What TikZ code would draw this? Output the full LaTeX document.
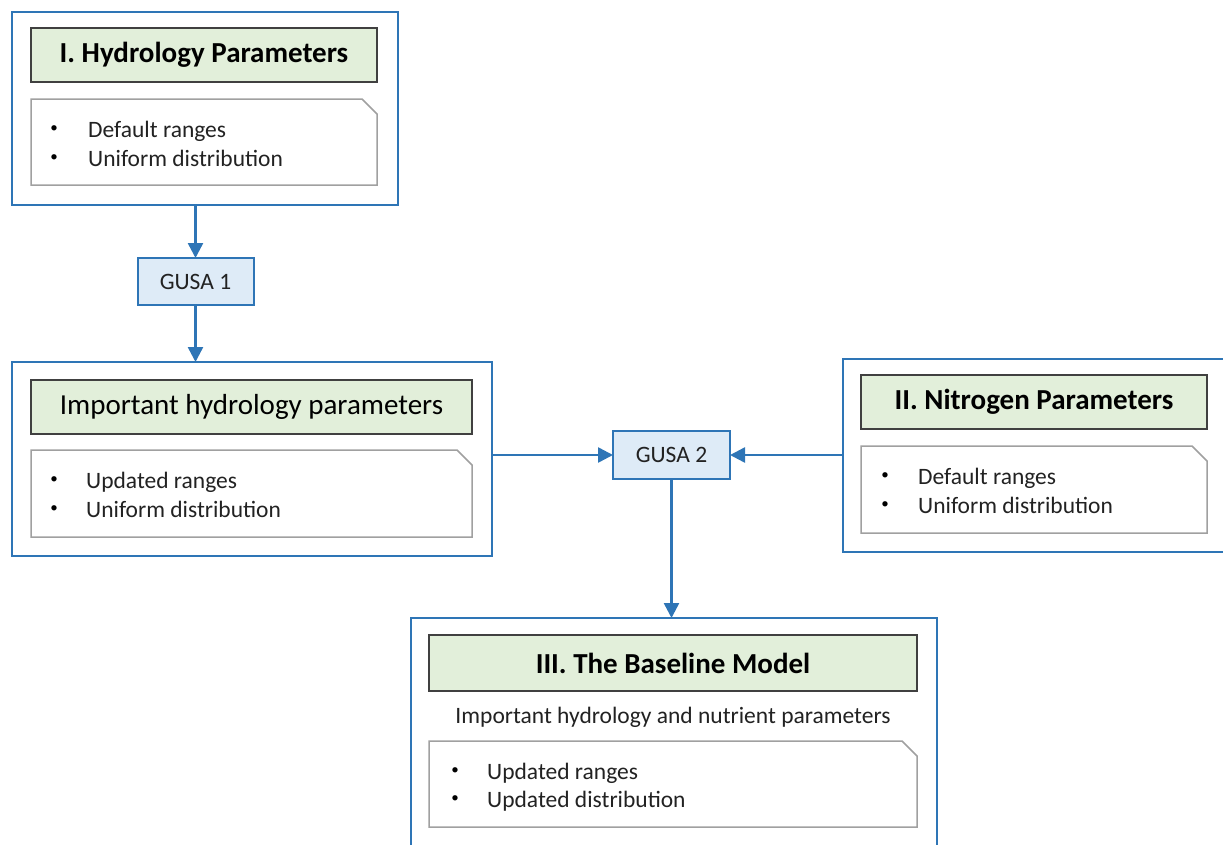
\documentclass[tikz,border=0pt]{standalone}
\usepackage{fontspec}
\setmainfont{Carlito}
\usetikzlibrary{arrows.meta}
\definecolor{bblue}{HTML}{2E75B6}
\definecolor{gfill}{HTML}{E2EFDA}
\definecolor{bfill}{HTML}{DEEBF7}
\definecolor{tborder}{HTML}{404040}
\definecolor{nborder}{HTML}{A0A0A0}
\definecolor{txt}{HTML}{222222}
\tikzset{
  outerbox/.style={draw=bblue, line width=2.5pt, inner sep=0pt, outer sep=0pt, fill=white},
  titlebox/.style={draw=tborder, line width=1.2pt, fill=gfill, inner sep=0pt, outer sep=0pt,
    font=\fontsize{29}{34}\selectfont, text=black},
  notebox/.style={inner sep=0pt, outer sep=0pt},
  noteline/.style={draw=nborder, line width=1.5pt, fill=white, line join=miter},
  gusabox/.style={draw=bblue, line width=2pt, fill=bfill, inner sep=0pt, outer sep=0pt,
    font=\fontsize{23.5}{28}\selectfont, text=txt},
  bodytext/.style={font=\fontsize{23.5}{28}\selectfont, text=txt, inner sep=0pt, anchor=base west},
  bullet/.style={font=\fontsize{15}{18}\selectfont, text=black, inner sep=0pt, anchor=center},
  conn/.style={draw=bblue, line width=2.5pt, -{Triangle[length=15pt,width=15pt]}}
}
\newcommand{\foldbox}[1]{%
  \path[noteline] (#1.south west) -- (#1.north west) -- ([xshift=-15pt]#1.north east)
    -- ([yshift=-15pt]#1.north east) -- (#1.south east) -- cycle;}
\begin{document}
\begin{tikzpicture}[x=1pt,y=-1pt]
\clip (0,0) rectangle (1223,844);
% Box I
\node[outerbox, minimum width=386, minimum height=193] (hyd) at (205,108.5) {};
\node[titlebox, minimum width=346, minimum height=54] (hydT) at (204,55) {\textbf{I. Hydrology Parameters}};
\node[notebox, minimum width=346, minimum height=86] (hydN) at (204,142) {};
\foldbox{hydN}
\node[bullet] (hydB1) at (54,129) {•};
\node[bodytext] (hydL1) at (88,137) {Default ranges};
\node[bullet] (hydB2) at (54,158) {•};
\node[bodytext] (hydL2) at (88,166) {Uniform distribution};
% GUSA 1
\node[gusabox, minimum width=116, minimum height=47] (g1) at (195.5,281.5) {GUSA 1};
% Important hydrology
\node[outerbox, minimum width=480, minimum height=194] (imp) at (252,459) {};
\node[titlebox, minimum width=441, minimum height=54] (impT) at (251.5,407) {Important hydrology parameters};
\node[notebox, minimum width=441, minimum height=87] (impN) at (251.5,493.5) {};
\foldbox{impN}
\node[bullet] (impB1) at (54,480) {•};
\node[bodytext] (impL1) at (86,488) {Updated ranges};
\node[bullet] (impB2) at (54,509) {•};
\node[bodytext] (impL2) at (86,517) {Uniform distribution};
% GUSA 2
\node[gusabox, minimum width=117, minimum height=48] (g2) at (671.5,455) {GUSA 2};
% Nitrogen
\node[outerbox, minimum width=407, minimum height=193] (nit) at (1046.5,455.5) {};
\node[titlebox, minimum width=346, minimum height=54] (nitT) at (1034,402) {\textbf{II. Nitrogen Parameters}};
\node[notebox, minimum width=346, minimum height=87] (nitN) at (1034,489.5) {};
\foldbox{nitN}
\node[bullet] (nitB1) at (885,476) {•};
\node[bodytext] (nitL1) at (918,484) {Default ranges};
\node[bullet] (nitB2) at (885,505) {•};
\node[bodytext] (nitL2) at (918,513) {Uniform distribution};
% Baseline
\node[outerbox, minimum width=526, minimum height=252] (base) at (674,744) {};
\node[titlebox, minimum width=488, minimum height=56] (baseT) at (673,663) {\textbf{III. The Baseline Model}};
\node[font=\fontsize{23.5}{28}\selectfont, text=txt, inner sep=0pt] (baseS) at (673,717) {Important hydrology and nutrient parameters};
\node[notebox, minimum width=488, minimum height=86] (baseN) at (673,784) {};
\foldbox{baseN}
\node[bullet] (baseB1) at (455,771) {•};
\node[bodytext] (baseL1) at (487,779) {Updated ranges};
\node[bullet] (baseB2) at (455,799) {•};
\node[bodytext] (baseL2) at (487,807) {Updated distribution};
% connectors
\draw[conn] (g1.north |- hyd.south) -- (g1.north);
\draw[conn] (g1.south) -- (g1.south |- imp.north);
\draw[conn] (imp.east |- g2.west) -- (g2.west);
\draw[conn] (nit.west |- g2.east) -- (g2.east);
\draw[conn] (g2.south) -- (g2.south |- base.north);
\end{tikzpicture}
\end{document}
